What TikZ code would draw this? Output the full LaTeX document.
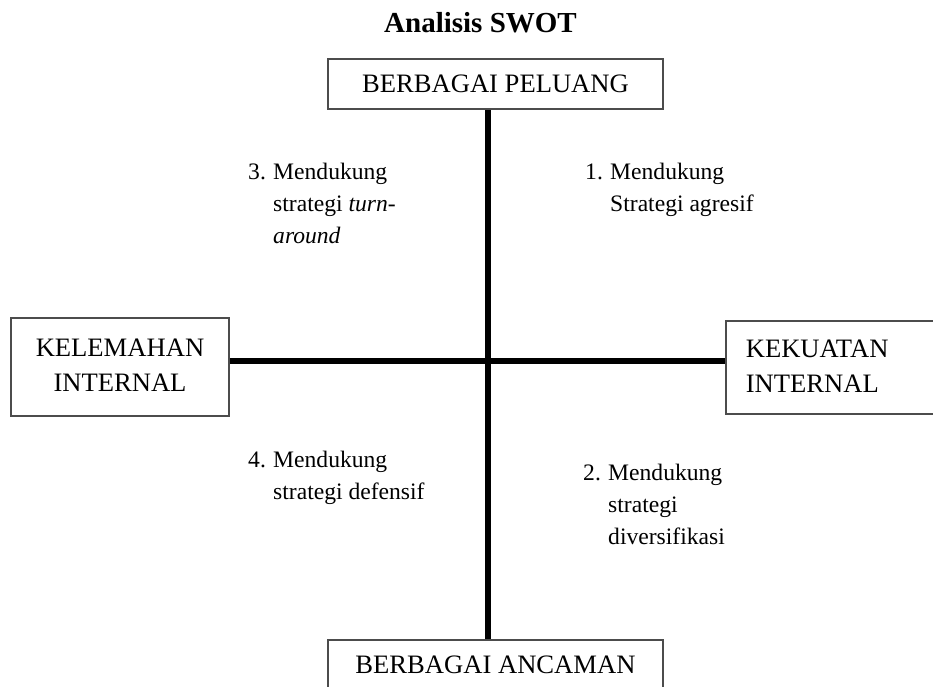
\documentclass[tikz,border=0pt]{standalone}
\usepackage{fontspec}
\setmainfont{Liberation Serif}
\usetikzlibrary{positioning}
\tikzset{
    swotbox/.style={draw=black!70, line width=1.6pt, inner sep=0pt, minimum width=335pt, minimum height=50pt, align=center, font=\fontsize{26.6}{35}\selectfont},
    swotside/.style={swotbox, minimum width=218pt, minimum height=98pt},
    swotaxis/.style={line width=5.5pt, draw=black},
    swotquad/.style={anchor=base west, inner sep=0pt, font=\fontsize{23.6}{32}\selectfont},
    swottitle/.style={anchor=base, inner sep=0pt, font=\fontsize{29}{34}\selectfont\bfseries}
}
\newcommand{\quadnum}[1]{\makebox[25pt][l]{#1}}
\newcommand{\sidetext}[2]{\raisebox{4.5pt}{\begin{tabular}{@{}#1@{}}#2\end{tabular}}}

\begin{document}
\begin{tikzpicture}[x=1pt, y=-1pt]
    \useasboundingbox (0,0) rectangle (933,686);
    \clip (0,0) rectangle (933,686);

    \node[swottitle] (title) at (480.5,32) {Analisis SWOT};
    \coordinate (mid) at (488,361);

    % Boxes
    \node[swotbox] (peluang) at (495.5,84) {BERBAGAI PELUANG};
    \node[swotbox] (ancaman) at (495.5,665) {BERBAGAI ANCAMAN};
    \node[swotside] (kelemahan) at (120,367) {\sidetext{c}{KELEMAHAN\\INTERNAL}};
    \node[swotside, minimum width=240pt, minimum height=93pt, text width=200pt, align=left, inner xsep=20pt, anchor=west] (kekuatan) at (725,367.5) {\sidetext{l}{KEKUATAN\\INTERNAL}};

    % Axes
    \draw[swotaxis] (peluang.south -| mid) -- (ancaman.north -| mid);
    \draw[swotaxis] (kelemahan.east |- mid) -- (kekuatan.west |- mid);

    % Quadrants
    \node[swotquad] (q3) at (248,179) {\begin{tabular}[t]{@{}l@{}l@{}}\quadnum{3.}&Mendukung\\&strategi \textit{turn-}\\&\textit{around}\end{tabular}};
    \node[swotquad] (q1) at (585,179) {\begin{tabular}[t]{@{}l@{}l@{}}\quadnum{1.}&Mendukung\\&Strategi agresif\end{tabular}};
    \node[swotquad] (q4) at (248,467) {\begin{tabular}[t]{@{}l@{}l@{}}\quadnum{4.}&Mendukung\\&strategi defensif\end{tabular}};
    \node[swotquad] (q2) at (583,480) {\begin{tabular}[t]{@{}l@{}l@{}}\quadnum{2.}&Mendukung\\&strategi\\&diversifikasi\end{tabular}};
\end{tikzpicture}
\end{document}
